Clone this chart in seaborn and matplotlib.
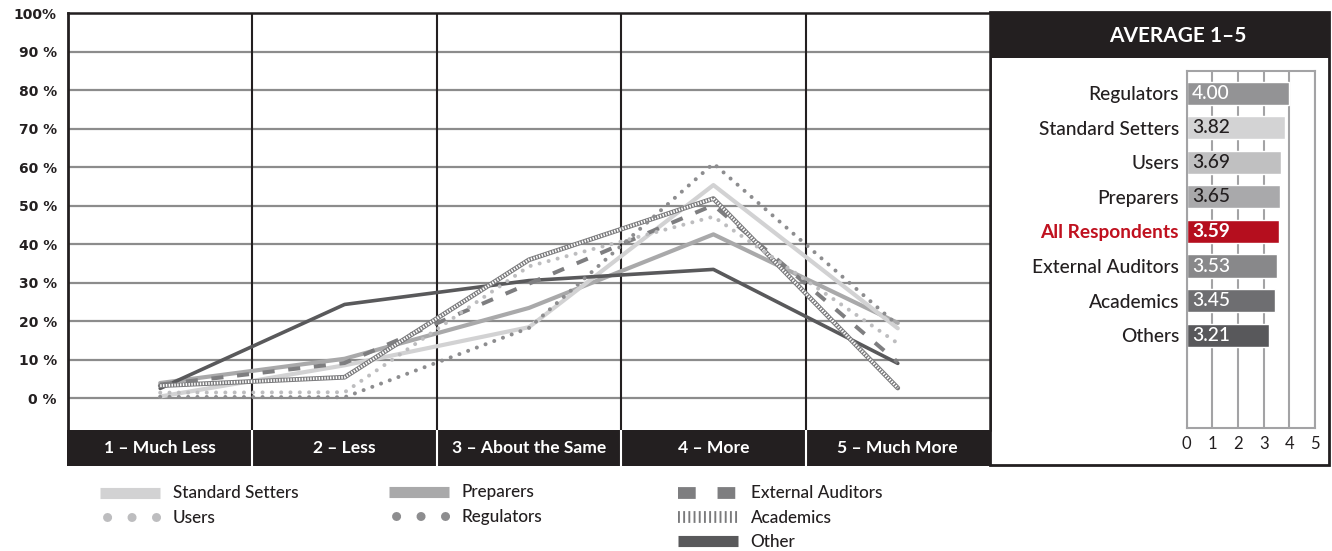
import matplotlib
matplotlib.use("Agg")
import matplotlib.pyplot as plt
from matplotlib.lines import Line2D
from matplotlib.patches import Rectangle
import seaborn as sns

# ---- data -------------------------------------------------------------
categories = ["1 \u2013 Much Less", "2 \u2013 Less", "3 \u2013 About the Same",
              "4 \u2013 More", "5 \u2013 Much More"]

standard_setters = [0.5, 8.6, 18.5, 55.4, 18.2]
preparers = [4.0, 10.3, 23.5, 42.6, 19.6]
users = [1.5, 1.6, 34.3, 47.2, 14.3]
regulators = [0.4, 0.3, 18.3, 61.0, 19.0]
external_auditors = [3.6, 9.2, 29.8, 50.2, 9.4]
academics = [3.3, 5.5, 36.0, 51.9, 2.7]
other = [2.6, 24.4, 30.6, 33.5, 9.1]

y_ticks = [0, 10, 20, 30, 40, 50, 60, 70, 80, 90, 100]
y_tick_labels = ["0 %", "10 %", "20 %", "30 %", "40 %", "50 %", "60 %",
                 "70 %", "80 %", "90 %", "100%"]

avg_title = "AVERAGE 1\u20135"
avg_groups = ["Regulators", "Standard Setters", "Users", "Preparers",
              "All Respondents", "External Auditors", "Academics", "Others"]
avg_values = [4.00, 3.82, 3.69, 3.65, 3.59, 3.53, 3.45, 3.21]
avg_ticks = [0, 1, 2, 3, 4, 5]

# ---- style --------------------------------------------------------------
sns.set_theme(style="white")
plt.rcParams["font.family"] = ["Lato", "DejaVu Sans"]

INK = "#231f20"
GRID = "#8c8c8c"

W, H = 1332, 551
fig = plt.figure(figsize=(W / 100, H / 100), dpi=100)
fig.patch.set_facecolor("white")


def fx(px):
    return px / W


def fy(py):
    return 1 - py / H


# ---- main line chart ------------------------------------------------------
ax = fig.add_axes([fx(68), fy(430), fx(990) - fx(68), fy(13.3) - fy(430)])
x_pos = list(range(len(categories)))

series = [
    # label, values, color, width, style
    ("Preparers", preparers, "#a9a9aa", 3.0, "solid"),
    ("Standard Setters", standard_setters, "#d2d2d3", 3.0, "solid"),
    ("Other", other, "#59595b", 2.6, "solid"),
    ("External Auditors", external_auditors, "#7e7e80", 2.9, "dashed"),
    ("Academics", academics, "#7a7a7c", 3.4, "hatched"),
    ("Users", users, "#bdbdbf", 2.9, "dotted"),
    ("Regulators", regulators, "#8d8d8f", 2.9, "dotted"),
]

for label, vals, color, lw, style in series:
    sns.lineplot(x=x_pos, y=vals, ax=ax, color=color, linewidth=lw, zorder=3)
    line = ax.lines[-1]
    if style == "dashed":
        line.set_linestyle((0, (3.0, 3.4)))
        line.set_dash_capstyle("butt")
    elif style == "dotted":
        line.set_linestyle((0, (0.01, 2.3)))
        line.set_dash_capstyle("round")
    elif style == "hatched":
        sns.lineplot(x=x_pos, y=vals, ax=ax, color="white", linewidth=lw * 0.6, zorder=3)
        stripe = ax.lines[-1]
        stripe.set_linestyle((0, (0.5, 0.5)))
        stripe.set_dash_capstyle("butt")

ax.set_xlim(-0.5, len(categories) - 0.5)
ax.set_ylim(-8.2, 100)
ax.set_xlabel("")
ax.set_ylabel("")
ax.set_xticks([])
ax.set_yticks(y_ticks)
ax.set_yticklabels(y_tick_labels, fontsize=10, fontweight="bold", color=INK,
                   family=["DejaVu Sans"])
ax.tick_params(axis="y", length=0, pad=8)
ax.grid(axis="y", color=GRID, linewidth=1.6)
ax.grid(axis="x", visible=False)
ax.set_axisbelow(True)
for b in x_pos[:-1]:
    ax.axvline(b + 0.5, color=INK, linewidth=1.5, zorder=2)
for side in ["left", "top", "right"]:
    ax.spines[side].set_color(INK)
ax.spines["left"].set_linewidth(2.0)
ax.spines["top"].set_linewidth(1.8)
ax.spines["right"].set_linewidth(1.8)
ax.spines["bottom"].set_visible(False)

# category band under the chart
band = fig.add_axes([fx(66.5), fy(466), fx(990) - fx(66.5), fy(430) - fy(466)])
band.set_facecolor(INK)
band.set_xlim(-0.5 - 1.5 / 184.4, len(categories) - 0.5)
band.set_ylim(0, 1)
band.set_xticks([])
band.set_yticks([])
for s in band.spines.values():
    s.set_visible(False)
for i, c in enumerate(categories):
    band.text(i, 0.5, c, ha="center", va="center", color="white",
              fontsize=12.6, fontweight="bold")
    if i < len(categories) - 1:
        band.axvline(i + 0.5, color="white", linewidth=1.5)

# ---- legend -------------------------------------------------------------
def solid(color):
    return Line2D([], [], color=color, linewidth=8, solid_capstyle="butt")


def dots(color):
    return Line2D([], [], color=color, linewidth=6.5, linestyle=(1.93, (0.01, 2.7)),
                  dash_capstyle="round")


leg_ext = Line2D([], [], color="#7e7e80", linewidth=8.5, linestyle=(0, (1.5, 1.85)),
                 dash_capstyle="butt")
leg_acad = Line2D([], [], color="#7a7a7c", linewidth=8.5, linestyle=(0, (0.16, 0.28)),
                  dash_capstyle="butt")

legend_kw = dict(frameon=False, loc="upper left", handlelength=3.5,
                 handletextpad=0.75, labelspacing=0.47, borderpad=0, borderaxespad=0,
                 labelcolor=INK, prop={"size": 12.3, "weight": "medium"})
l1 = fig.legend([solid("#d2d2d3"), dots("#bdbdbf")], ["Standard Setters", "Users"],
                bbox_to_anchor=(fx(100), fy(485.5)), **legend_kw)
l2 = fig.legend([solid("#a9a9aa"), dots("#8d8d8f")], ["Preparers", "Regulators"],
                bbox_to_anchor=(fx(389), fy(484.5)), **legend_kw)
l3 = fig.legend([leg_ext, leg_acad, solid("#59595b")],
                ["External Auditors", "Academics", "Other"],
                bbox_to_anchor=(fx(678), fy(485.5)), **legend_kw)

# ---- average panel --------------------------------------------------------
fig.add_artist(Rectangle((fx(990), fy(465)), fx(1329) - fx(990), fy(12) - fy(465),
                         transform=fig.transFigure, facecolor="white",
                         edgecolor=INK, linewidth=2.0, zorder=0))
fig.add_artist(Rectangle((fx(990), fy(58)), fx(1330) - fx(990), fy(12) - fy(58),
                         transform=fig.transFigure, facecolor=INK,
                         edgecolor="none", zorder=1))
fig.text(fx(1178), fy(35.5), avg_title, ha="center", va="center", color="white",
         fontsize=15, fontweight="bold")

bar_colors = {
    "Regulators": "#939395",
    "Standard Setters": "#d3d3d4",
    "Users": "#c0c0c1",
    "Preparers": "#a9a9ab",
    "All Respondents": "#b50e1e",
    "External Auditors": "#88888a",
    "Academics": "#6e6e71",
    "Others": "#58585b",
}
text_colors = {
    "Regulators": "white",
    "Standard Setters": INK,
    "Users": INK,
    "Preparers": INK,
    "All Respondents": "white",
    "External Auditors": "white",
    "Academics": "white",
    "Others": "white",
}

axb = fig.add_axes([fx(1186.7), fy(427.7), fx(1315) - fx(1186.7), fy(71) - fy(427.7)])
sns.barplot(x=avg_values, y=avg_groups, hue=avg_groups, palette=bar_colors,
            legend=False, orient="h", width=0.67, saturation=1, ax=axb, zorder=2)
axb.set_xlim(avg_ticks[0], avg_ticks[-1])
axb.set_ylim(len(avg_groups) + 1.68, -0.645)
axb.set_xticks(avg_ticks)
axb.set_xticklabels([str(t) for t in avg_ticks], fontsize=12, color=INK)
axb.tick_params(axis="x", length=0, pad=6)
axb.tick_params(axis="y", length=0, pad=5.5)
axb.set_xlabel("")
axb.set_ylabel("")
axb.grid(axis="x", color="#a3a3a5", linewidth=1.5)
axb.grid(axis="y", visible=False)
axb.set_axisbelow(True)
for s in axb.spines.values():
    s.set_visible(True)
    s.set_color("#a3a3a5")
    s.set_linewidth(1.5)

for lab in axb.get_yticklabels():
    name = lab.get_text()
    lab.set_fontsize(13.8)
    if name == "All Respondents":
        lab.set_color("#c0111f")
        lab.set_fontweight("bold")
    else:
        lab.set_color(INK)
        lab.set_fontweight("medium")

for i, (g, v) in enumerate(zip(avg_groups, avg_values)):
    axb.text(0.2, i, f"{v:.2f}", ha="left", va="center", fontsize=13.8,
             color=text_colors[g],
             fontweight="bold" if g == "All Respondents" else "medium", zorder=3)

fig.savefig("out.png", dpi=100, facecolor="white")
